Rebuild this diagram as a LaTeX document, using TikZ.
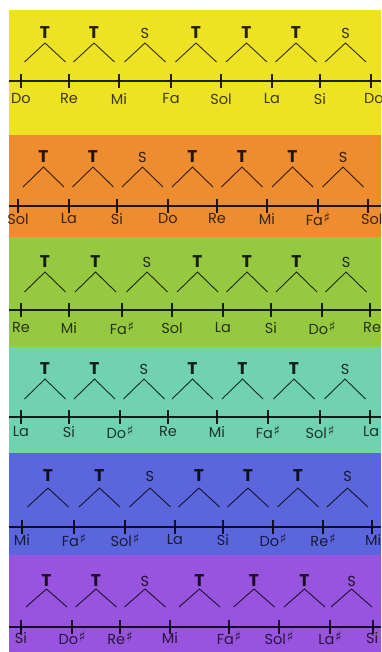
\documentclass[tikz,border=0pt]{standalone}
\usepackage{fontspec}
\setmainfont{Poppins}
\newfontfamily\symfont{DejaVu Sans}
\newcommand\shp{\hspace{0.8pt}\raisebox{0.35ex}{\symfont\bfseries\fontsize{13.5}{12}\selectfont ♯}}
\definecolor{yel}{RGB}{238,226,36}
\definecolor{org}{RGB}{238,140,48}
\definecolor{grn}{RGB}{150,200,64}
\definecolor{tea}{RGB}{112,210,176}
\definecolor{blu}{RGB}{92,102,220}
\definecolor{pur}{RGB}{152,84,222}
\tikzset{
  axisline/.style={line width=1.8pt, draw=black, draw opacity=0.85},
  tickline/.style={line width=1.1pt, draw=black, draw opacity=0.85},
  veeline/.style={line width=0.9pt, draw=black, draw opacity=0.8},
  notelabel/.style={inner sep=0pt, text=black, text opacity=0.75, font=\fontsize{14.5}{16}\selectfont},
  steplabel/.style={inner sep=0pt, text=black, text opacity=0.85, font=\fontsize{17}{18}\selectfont\bfseries},
  halflabel/.style={inner sep=0pt, text=black, text opacity=0.8, font=\fontsize{14.5}{15}\selectfont},
}
\begin{document}
\begin{tikzpicture}[x=1pt,y=-1pt]
\useasboundingbox (0,0) rectangle (381,652);
\clip (0,0) rectangle (381,652);
\foreach \b/\col/\top/\bot/\ly/\ty/\ay/\fy/\nly/\tk in {
 1/yel/10/135/81/33/43/62/99/{21/Do/-,69/Re/T,119/Mi/T,171/Fa/S,221/Sol/T,272/La/T,320/Si/T,371/Do/S},
 2/org/135/237/206/157/167/187/219/{18/Sol/-,69/La/T,117/Si/T,168/Do/S,217/Re/T,267/Mi/T,318/Fa\shp/T,368/Sol/S},
 3/grn/237/347/310/262/272/292/328/{21/Re/-,69/Mi/T,122/Fa\shp/T,172/Sol/S,223/La/T,271/Si/T,322/Do\shp/T,370/Re/S},
 4/tea/347/453/417/369/379/399/432/{21/La/-,69/Si/T,120/Do\shp/T,168/Re/S,217/Mi/T,268/Fa\shp/T,320/Sol\shp/T,370/La/S},
 5/blu/453/555/527/476/488/507/540/{22/Mi/-,74/Fa\shp/T,125/Sol\shp/T,175/La/S,223/Si/T,273/Do\shp/T,323/Re\shp/T,372/Mi/S},
 6/pur/555/652/627/581/589/607/638/{21/Si/-,72/Do\shp/T,120/Re\shp/T,170/Mi/S,229/Fa\shp/T,279/Sol\shp/T,330/La\shp/T,373/Si/S}}
{
  \fill[\col] (9,\top) rectangle (381,\bot);
  \draw[axisline] (9,\ly) coordinate (axL-\b) -- (381,\ly) coordinate (axR-\b);
  \foreach \x/\n/\l [count=\i, remember=\x as \px (initially 0)] in \tk {
    \draw[tickline] (\x,\ly-7) -- (\x,\ly+7);
    \ifnum\i=8
      \node[notelabel, anchor=west] (note-\b-\i) at (\x-7,\nly) {\n};
    \else
      \node[notelabel] (note-\b-\i) at (\x,\nly) {\n};
    \fi
    \ifnum\i>1
      \pgfmathsetmacro\mx{(\px+\x)/2}
      \draw[veeline] ({\mx-20.5},\fy) -- (\mx,\ay) coordinate (apex-\b-\i) -- ({\mx+20.5},\fy);
      \if T\l
        \node[steplabel] (step-\b-\i) at (\mx,\ty) {T};
      \else
        \node[halflabel] (step-\b-\i) at (\mx,\ty) {S};
      \fi
    \fi
  }
}
\end{tikzpicture}
\end{document}
